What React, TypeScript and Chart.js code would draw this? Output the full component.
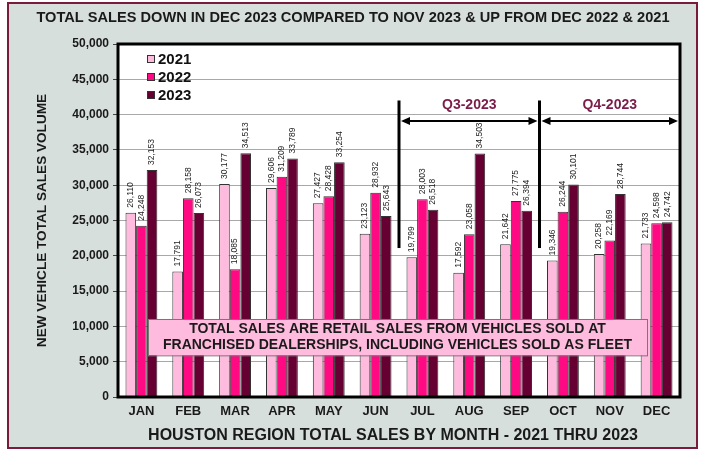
import React, { useEffect, useRef } from "react";
import { Chart, registerables } from "chart.js";

Chart.register(...registerables);

const months = ["JAN", "FEB", "MAR", "APR", "MAY", "JUN", "JUL", "AUG", "SEP", "OCT", "NOV", "DEC"];
const sales2021 = [26110, 17791, 30177, 29606, 27427, 23123, 19799, 17592, 21642, 19346, 20258, 21733];
const sales2022 = [24248, 28158, 18085, 31209, 28428, 28932, 28003, 23058, 27775, 26244, 22169, 24598];
const sales2023 = [32153, 26073, 34513, 33789, 33254, 25643, 26518, 34503, 26394, 30101, 28744, 24742];
const seriesNames = ["2021", "2022", "2023"];
const seriesColors = ["#ffbbdd", "#ff0a82", "#660033"];

const chartTitle = "TOTAL SALES DOWN IN DEC 2023 COMPARED TO NOV 2023 & UP FROM DEC 2022 & 2021";
const xTitle = "HOUSTON REGION TOTAL SALES BY MONTH - 2021 THRU 2023";
const yTitle = "NEW VEHICLE TOTAL SALES VOLUME";
const noteLines = [
  "TOTAL SALES ARE RETAIL SALES FROM VEHICLES SOLD AT",
  "FRANCHISED DEALERSHIPS, INCLUDING VEHICLES SOLD AS FLEET",
];
const quarterLabels = ["Q3-2023", "Q4-2023"];

const FONT = "'Liberation Sans', Arial, sans-serif";

const fmt = (v: number) => v.toLocaleString("en-US");

function arrowHead(ctx: CanvasRenderingContext2D, x: number, y: number, dir: number) {
  ctx.beginPath();
  ctx.moveTo(x, y);
  ctx.lineTo(x - dir * 9, y - 4);
  ctx.lineTo(x - dir * 9, y + 4);
  ctx.closePath();
  ctx.fill();
}

const decorPlugin = {
  id: "decor",
  beforeDraw(chart: any) {
    const ctx = chart.ctx as CanvasRenderingContext2D;
    const W = chart.width, H = chart.height;
    ctx.save();
    ctx.fillStyle = "#ffffff";
    ctx.fillRect(0, 0, W, H);
    ctx.fillStyle = "#d7dfdc";
    ctx.fillRect(8, 3, 689, 445);
    ctx.strokeStyle = "#7a1a3c";
    ctx.lineWidth = 2;
    ctx.strokeRect(8, 3, 689, 445);
    const a = chart.chartArea;
    ctx.fillStyle = "#ffffff";
    ctx.fillRect(a.left, a.top, a.right - a.left, a.bottom - a.top);
    ctx.restore();
  },
  afterDatasetsDraw(chart: any) {
    const ctx = chart.ctx as CanvasRenderingContext2D;
    const a = chart.chartArea;
    const xs = chart.scales.x;
    const ys = chart.scales.y;
    ctx.save();

    // value labels
    ctx.fillStyle = "#222";
    ctx.font = `8.5px ${FONT}`;
    ctx.textAlign = "left";
    ctx.textBaseline = "middle";
    chart.data.datasets.forEach((ds: any, di: number) => {
      const meta = chart.getDatasetMeta(di);
      meta.data.forEach((bar: any, i: number) => {
        ctx.save();
        ctx.translate(bar.x, bar.y - 5);
        ctx.rotate(-Math.PI / 2);
        ctx.fillText(fmt(ds.data[i]), 0, 0);
        ctx.restore();
      });
    });

    // plot frame
    ctx.strokeStyle = "#000";
    ctx.lineWidth = 3;
    ctx.strokeRect(a.left, a.top, a.right - a.left, a.bottom - a.top);

    // legend
    ctx.font = `bold 15px ${FONT}`;
    ctx.textBaseline = "middle";
    seriesNames.forEach((n, i) => {
      const y = 59 + i * 18;
      ctx.fillStyle = seriesColors[i];
      ctx.fillRect(147, y - 4, 8, 8);
      ctx.strokeStyle = "#333";
      ctx.lineWidth = 1;
      ctx.strokeRect(147.5, y - 3.5, 7, 7);
      ctx.fillStyle = "#111";
      ctx.fillText(n, 158, y + 1);
    });

    // quarter markers
    const b1 = (xs.getPixelForValue(5) + xs.getPixelForValue(6)) / 2;
    const b2 = (xs.getPixelForValue(8) + xs.getPixelForValue(9)) / 2;
    const b3 = a.right;
    const yTop = ys.getPixelForValue(42000);
    const yBot = ys.getPixelForValue(21100);
    const yArrow = ys.getPixelForValue(39100);
    ctx.strokeStyle = "#000";
    ctx.fillStyle = "#000";
    ctx.lineWidth = 3;
    [b1, b2].forEach((bx) => {
      ctx.beginPath();
      ctx.moveTo(bx, yTop);
      ctx.lineTo(bx, yBot);
      ctx.stroke();
    });
    ctx.lineWidth = 2;
    [[b1 + 2, b2 - 2], [b2 + 2, b3 - 2]].forEach(([x1, x2]) => {
      ctx.beginPath();
      ctx.moveTo(x1 + 6, yArrow);
      ctx.lineTo(x2 - 6, yArrow);
      ctx.stroke();
      arrowHead(ctx, x1, yArrow, -1);
      arrowHead(ctx, x2, yArrow, 1);
    });
    ctx.fillStyle = "#7b1c4a";
    ctx.font = `bold 14px ${FONT}`;
    ctx.textAlign = "center";
    ctx.textBaseline = "middle";
    const yQ = ys.getPixelForValue(41350);
    ctx.fillText(quarterLabels[0], (b1 + b2) / 2, yQ);
    ctx.fillText(quarterLabels[1], (b2 + b3) / 2, yQ);

    // note box
    const bx1 = 148, bx2 = 647;
    const by1 = ys.getPixelForValue(11050);
    const by2 = ys.getPixelForValue(5900);
    ctx.fillStyle = "#ffbbdd";
    ctx.fillRect(bx1, by1, bx2 - bx1, by2 - by1);
    ctx.strokeStyle = "#777";
    ctx.lineWidth = 1;
    ctx.strokeRect(bx1 + 0.5, by1 + 0.5, bx2 - bx1, by2 - by1);
    ctx.fillStyle = "#1a1a1a";
    ctx.font = `bold 14px ${FONT}`;
    const cy = (by1 + by2) / 2;
    ctx.fillText(noteLines[0], (bx1 + bx2) / 2, cy - 8);
    ctx.fillText(noteLines[1], (bx1 + bx2) / 2, cy + 8);

    ctx.restore();
  },
  afterDraw(chart: any) {
    const ctx = chart.ctx as CanvasRenderingContext2D;
    const a = chart.chartArea;
    ctx.save();
    ctx.fillStyle = "#1a1a1a";
    ctx.textAlign = "center";
    ctx.textBaseline = "middle";
    ctx.font = `bold 14.6px ${FONT}`;
    ctx.fillText(chartTitle, 353, 18);
    ctx.font = `bold 16px ${FONT}`;
    ctx.fillText(xTitle, (a.left + a.right) / 2 - 6, 436);
    ctx.translate(42, (a.top + a.bottom) / 2);
    ctx.rotate(-Math.PI / 2);
    ctx.font = `bold 13.6px ${FONT}`;
    ctx.fillText(yTitle, 0, 0);
    ctx.restore();
  },
};

export default function App() {
  const ref = useRef<HTMLCanvasElement | null>(null);
  useEffect(() => {
    if (!ref.current) return;
    const seriesData = [sales2021, sales2022, sales2023];
    const chart = new Chart(ref.current, {
      type: "bar",
      data: {
        labels: months,
        datasets: seriesNames.map((n, i) => ({
          label: n,
          data: seriesData[i],
          backgroundColor: seriesColors[i],
          borderColor: "#333",
          borderWidth: 1,
          categoryPercentage: 0.68,
          barPercentage: 1.0,
        })),
      },
      options: {
        responsive: false,
        animation: false,
        devicePixelRatio: 1,
        layout: { padding: { left: 60, top: 44, right: 24, bottom: 0 } },
        plugins: {
          legend: { display: false },
          title: { display: false },
          tooltip: { enabled: false },
        },
        scales: {
          x: {
            afterFit: (s: any) => { s.height = 54; },
            grid: { display: false, drawTicks: false },
            border: { display: false },
            ticks: { padding: 7, color: "#1a1a1a", font: { family: FONT, size: 13, weight: "bold" } },
          },
          y: {
            min: 0,
            max: 50000,
            afterFit: (s: any) => { s.width = 58; },
            border: { display: false },
            grid: { color: "#a8a8a8", lineWidth: 1, tickLength: 5, tickColor: "#444" },
            ticks: {
              stepSize: 5000,
              padding: 4,
              color: "#1a1a1a",
              font: { family: FONT, size: 12, weight: "bold" },
              callback: (v: any) => fmt(Number(v)),
            },
          },
        },
      },
      plugins: [decorPlugin],
    });
    return () => chart.destroy();
  }, []);
  return (
    <div style={{ position: "fixed", left: 0, top: 0, width: 704, height: 451 }}>
      <canvas ref={ref} width={704} height={451} />
    </div>
  );
}
